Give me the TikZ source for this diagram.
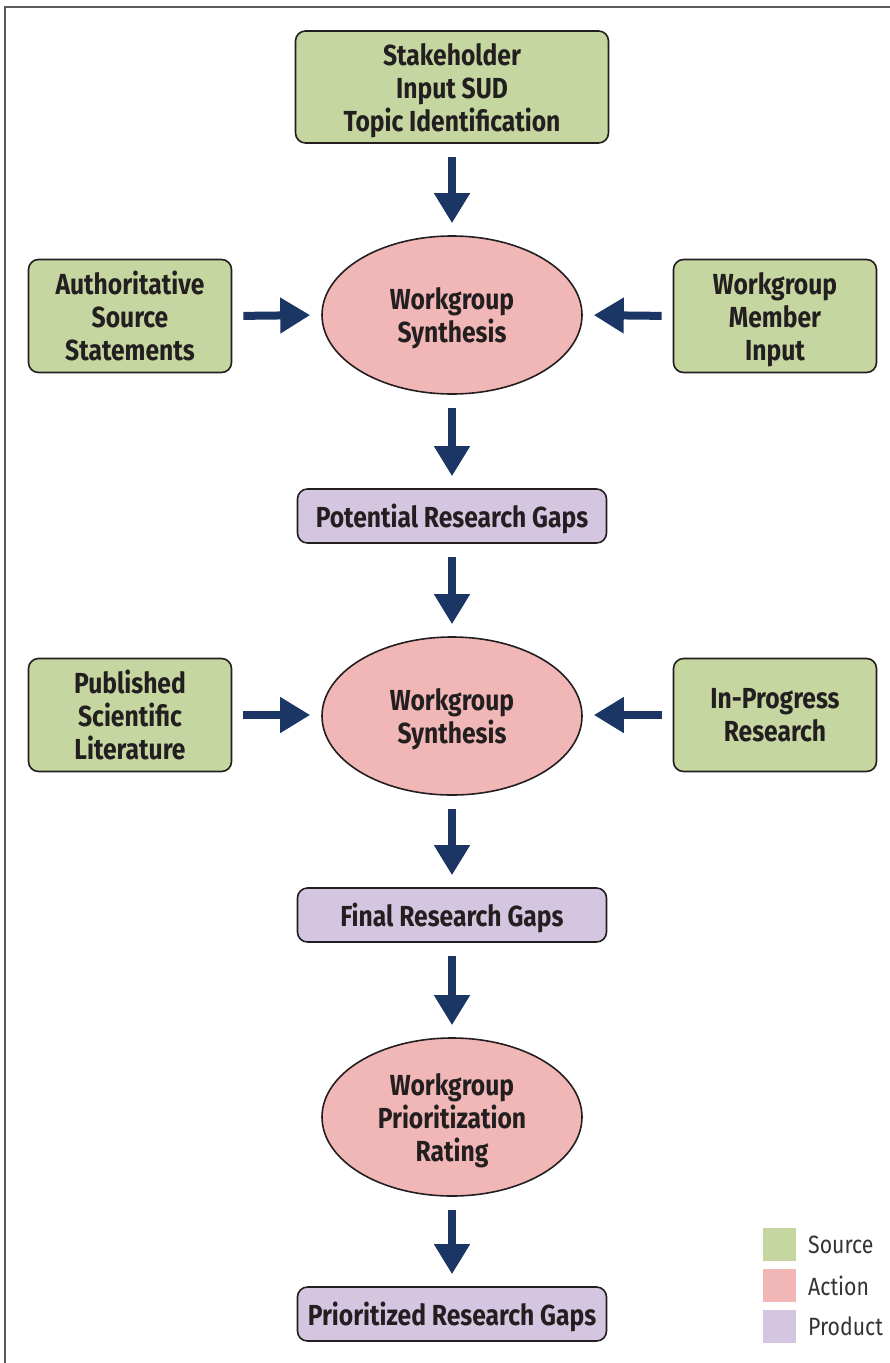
\documentclass[tikz,border=0pt]{standalone}
\usepackage{fontspec}
\setmainfont{Fira Sans}[FakeStretch=0.85]
\usetikzlibrary{arrows.meta,shapes.geometric}
\definecolor{srcgreen}{HTML}{C5D6A0}
\definecolor{actpink}{HTML}{F1B6B6}
\definecolor{prodpurple}{HTML}{D4C6E0}
\definecolor{navy}{HTML}{1B3564}
\definecolor{ink}{HTML}{231F20}
\definecolor{framegray}{HTML}{5A5A5A}
\definecolor{legtext}{HTML}{333333}
\tikzset{
  box/.style={draw=ink, line width=1.6pt, rounded corners=10pt, align=center,
    font=\fontsize{29}{33}\selectfont\bfseries, text=ink, inner sep=0pt, text depth=0pt},
  srcbox/.style={box, fill=srcgreen, minimum width=203pt, minimum height=113pt},
  topbox/.style={box, fill=srcgreen, minimum width=313pt, minimum height=112pt},
  prodbox/.style={box, fill=prodpurple, minimum width=309pt, minimum height=54pt},
  act/.style={ellipse, draw=ink, line width=1.6pt, fill=actpink, minimum width=260pt,
    minimum height=158pt, inner sep=0pt, align=center, text depth=0pt,
    font=\fontsize{29}{33}\selectfont\bfseries, text=ink},
  arr/.style={draw=navy, line width=8pt, -{Triangle[length=30pt,width=34pt]},
    shorten <=13pt, shorten >=12pt},
  harr/.style={draw=navy, line width=8pt, -{Triangle[length=30pt,width=34pt]},
    shorten <=11pt, shorten >=11pt},
  legsq/.style={minimum size=33pt, inner sep=0pt},
  legtx/.style={anchor=west, inner sep=0pt, text=legtext, font=\fontsize{25}{30}\selectfont}
}
\begin{document}
\begin{tikzpicture}[x=1pt,y=-1pt]
\useasboundingbox (0,0) rectangle (890,1363);
\draw[framegray, line width=2pt] (5,1370) -- (5,7) -- (900,7);

\node[topbox] (s1) at (452,87) {Stakeholder\\Input SUD\\Topic Identification};
\node[act] (a1) at (452,315) {Workgroup\\Synthesis};
\node[srcbox] (l1) at (130,316) {Authoritative\\Source\\Statements};
\node[srcbox] (r1) at (775,316) {Workgroup\\Member\\Input};
\node[prodbox] (p1) at (452,516) {Potential Research Gaps};
\node[act] (a2) at (452,716) {Workgroup\\Synthesis};
\node[srcbox] (l2) at (130,715) {Published\\Scientific\\Literature};
\node[srcbox] (r2) at (775,715) {In-Progress\\Research};
\node[prodbox] (p2) at (452,915) {Final Research Gaps};
\node[act] (a3) at (452,1117) {Workgroup\\Prioritization\\Rating};
\node[prodbox] (p3) at (452,1314) {Prioritized Research Gaps};

\draw[arr] (s1) -- (a1);
\draw[harr] (l1.east) -- (a1.west);
\draw[harr] (r1.west) -- (a1.east);
\draw[arr] (a1) -- (p1);
\draw[arr] (p1) -- (a2);
\draw[harr] (l2.east) -- (a2.west |- l2.east);
\draw[harr] (r2.west) -- (a2.east |- r2.west);
\draw[arr] (a2) -- (p2);
\draw[arr] (p2) -- (a3);
\draw[arr] (a3) -- (p3);

\node[legsq, fill=srcgreen] (ls) at (779.5,1244.5) {};
\node[legsq, fill=actpink] (la) at (779.5,1285.5) {};
\node[legsq, fill=prodpurple] (lp) at (779.5,1326.5) {};
\node[legtx] (lst) at (808,1244.5) {Source};
\node[legtx] (lat) at (808,1285.5) {Action};
\node[legtx] (lpt) at (808,1326.5) {Product};
\end{tikzpicture}
\end{document}
